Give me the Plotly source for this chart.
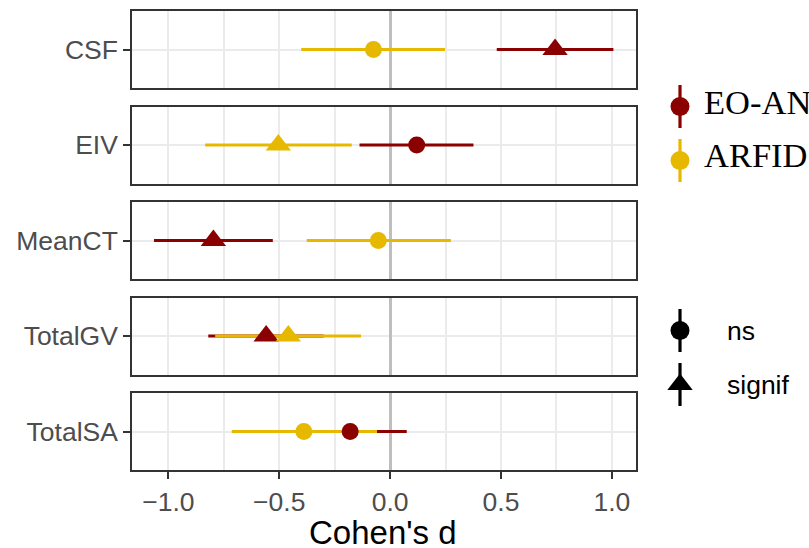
import plotly.graph_objects as go

# ---------------- data ----------------
regions = ["CSF", "EIV", "MeanCT", "TotalGV", "TotalSA"]

eoan_d = [0.744, 0.120, -0.797, -0.559, -0.180]
eoan_lo = [0.481, -0.138, -1.065, -0.820, -0.440]
eoan_hi = [1.007, 0.376, -0.529, -0.300, 0.075]
eoan_sig = ["signif", "ns", "signif", "signif", "ns"]

arfid_d = [-0.075, -0.504, -0.053, -0.459, -0.389]
arfid_lo = [-0.401, -0.834, -0.376, -0.789, -0.714]
arfid_hi = [0.248, -0.173, 0.274, -0.131, -0.059]
arfid_sig = ["ns", "signif", "ns", "signif", "ns"]

x_tick_vals = [-1.0, -0.5, 0.0, 0.5, 1.0]
x_tick_labels = ["\u22121.0", "\u22120.5", "0.0", "0.5", "1.0"]

group_names = ["EO-AN", "ARFID"]
group_colors = ["#8B0000", "#E7B800"]
sig_levels = ["ns", "signif"]
sig_symbols = {"ns": "circle", "signif": "triangle-up"}
sig_sizes = {"ns": 17, "signif": 22}

# ---------------- layout constants ----------------
W, H = 809, 548
PL, PR = 132, 636
TOP0, STEP, PH = 11, 95.5, 77
X_RANGE = [-1.164, 1.109]
SANS = "Liberation Sans, Arial, sans-serif"
SERIF = "Liberation Serif, Times New Roman, serif"
TICK_FS = 26.5

groups = [
    (eoan_d, eoan_lo, eoan_hi, eoan_sig),
    (arfid_d, arfid_lo, arfid_hi, arfid_sig),
]

fig = go.Figure()
layout = {}

for i, reg in enumerate(regions):
    ax = "" if i == 0 else str(i + 1)
    xa, ya = "x" + ax, "y" + ax
    # line ranges first (EO-AN then ARFID)
    for g, (d, lo, hi, sig) in enumerate(groups):
        fig.add_trace(go.Scatter(
            x=[lo[i], hi[i]], y=[reg, reg], mode="lines",
            line=dict(color=group_colors[g], width=3.2),
            xaxis=xa, yaxis=ya, showlegend=False, hoverinfo="skip"))
    # then points
    for g, (d, lo, hi, sig) in enumerate(groups):
        fig.add_trace(go.Scatter(
            x=[d[i]], y=[reg], mode="markers",
            marker=dict(color=group_colors[g], symbol=sig_symbols[sig[i]],
                        size=sig_sizes[sig[i]], line=dict(width=0)),
            xaxis=xa, yaxis=ya, showlegend=False, name=group_names[g]))

    top = TOP0 + STEP * i
    y_dom = [1 - (top + PH) / H, 1 - top / H]
    last = i == len(regions) - 1
    layout["xaxis" + ax] = dict(
        domain=[PL / W, PR / W], anchor=ya, range=X_RANGE,
        tickmode="array", tickvals=x_tick_vals, ticktext=x_tick_labels,
        showticklabels=last, ticks="outside" if last else "",
        ticklen=7, tickwidth=1.6, tickcolor="#333333",
        tickfont=dict(family=SANS, size=TICK_FS, color="#4D4D4D"),
        showgrid=True, gridcolor="#EBEBEB", gridwidth=2,
        minor=dict(tickmode="linear", tick0=0, dtick=0.25, showgrid=True,
                   gridcolor="#EBEBEB", gridwidth=1.6, ticks=""),
        zeroline=True, zerolinecolor="#BEBEBE", zerolinewidth=3,
        showline=True, mirror=True, linecolor="#333333", linewidth=1.6,
        fixedrange=True)
    layout["yaxis" + ax] = dict(
        domain=y_dom, anchor=xa, type="category", range=[-0.6, 0.6],
        ticks="outside", ticklen=7, tickwidth=1.6, tickcolor="#333333",
        tickfont=dict(family=SANS, size=TICK_FS, color="#4D4D4D"),
        showgrid=True, gridcolor="#EBEBEB", gridwidth=2, zeroline=False,
        showline=True, mirror=True, linecolor="#333333", linewidth=1.6,
        fixedrange=True)

# ---------------- manual legend (pointrange keys) ----------------
LX0 = 645
layout["xaxis6"] = dict(domain=[LX0 / W, 1], range=[LX0, W], visible=False,
                        anchor="y6", fixedrange=True)
layout["yaxis6"] = dict(domain=[0, 1], range=[H, 0], visible=False,
                        anchor="x6", fixedrange=True)

key_x = 680
legend_items = [
    # (label, color, symbol, key y, text y, font, size, text x)
    (group_names[0], group_colors[0], "circle", 106.5, 101.5, SERIF, 34.5, 702),
    (group_names[1], group_colors[1], "circle", 160.5, 155.5, SERIF, 34.5, 702),
    (sig_levels[0], "black", sig_symbols["ns"], 330.5, 331, SANS, TICK_FS, 725),
    (sig_levels[1], "black", sig_symbols["signif"], 384.5, 384.5, SANS, TICK_FS, 725),
]
annotations = []
for label, col, sym, cy, ty, fam, fs, tx in legend_items:
    fig.add_trace(go.Scatter(
        x=[key_x, key_x], y=[cy - 21.5, cy + 21.5], mode="lines",
        line=dict(color=col, width=3.2), xaxis="x6", yaxis="y6",
        showlegend=False, hoverinfo="skip"))
    fig.add_trace(go.Scatter(
        x=[key_x], y=[cy], mode="markers",
        marker=dict(color=col, symbol=sym,
                    size=sig_sizes["ns"] + 2 if sym == "circle" else sig_sizes["signif"],
                    line=dict(width=0)),
        xaxis="x6", yaxis="y6", showlegend=False, hoverinfo="skip"))
    annotations.append(dict(
        text=label, x=tx / W, y=1 - ty / H, xref="paper", yref="paper",
        xanchor="left", yanchor="middle", showarrow=False,
        font=dict(family=fam, size=fs, color="black")))

annotations.append(dict(
    text="Cohen's d", x=383 / W, y=1 - 532 / H, xref="paper", yref="paper",
    xanchor="center", yanchor="middle", showarrow=False,
    font=dict(family=SANS, size=33, color="black")))

fig.update_layout(
    width=W, height=H, margin=dict(l=0, r=0, t=0, b=0, pad=0),
    paper_bgcolor="white", plot_bgcolor="white",
    showlegend=False, annotations=annotations, **layout)

fig.write_html("out.html")
